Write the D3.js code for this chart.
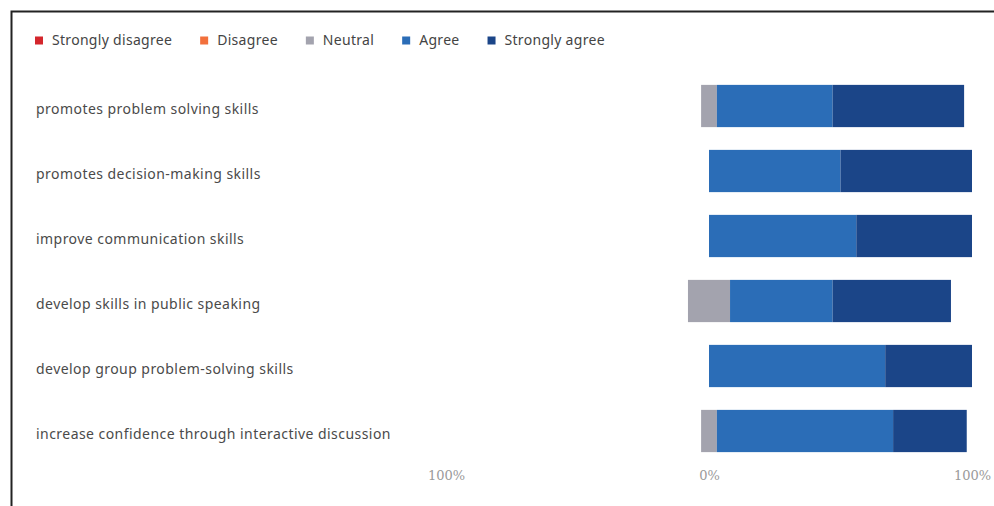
<!DOCTYPE html>
<html>
<head>
<meta charset="utf-8">
<script src="https://cdn.jsdelivr.net/npm/d3@7"></script>
<style>
  body { margin: 0; background: #fff; }
  svg { display: block; }
  .label { font-family: "Noto Sans", "Open Sans", sans-serif; font-size: 14px; letter-spacing: 0.45px; fill: #4a4a4a; }
  .legend text { font-family: "Noto Sans", "Open Sans", sans-serif; font-size: 14px; letter-spacing: 0.3px; fill: #444; }
  .axis text { font-family: "DejaVu Serif", serif; font-size: 13px; fill: #9a9a9a; }
</style>
</head>
<body>
<div id="chart"></div>
<script>
// categories, top to bottom
const categories = [
  "promotes problem solving skills",
  "promotes decision-making skills",
  "improve communication skills",
  "develop skills in public speaking",
  "develop group problem-solving skills",
  "increase confidence through interactive discussion"
];
// percent of responses per answer
const stronglyDisagree = [0, 0, 0, 0, 0, 0];
const disagree         = [0, 0, 0, 0, 0, 0];
const neutral          = [6, 0, 0, 16, 0, 6];
const agree            = [44, 50, 56, 39, 67, 67];
const stronglyAgree    = [50, 50, 44, 45, 33, 28];

const seriesNames = ["Strongly disagree", "Disagree", "Neutral", "Agree", "Strongly agree"];
const seriesColors = ["#d4262c", "#f2703c", "#a3a3ae", "#2b6db7", "#1b4588"];
const tickValues = [-100, 0, 100];

const width = 994, height = 506;

const svg = d3.select("#chart").append("svg")
    .attr("width", width)
    .attr("height", height);

// frame (top + left edge only)
svg.append("path")
    .attr("d", "M11.5,506 V11.5 H994")
    .attr("fill", "none")
    .attr("stroke", "#222")
    .attr("stroke-width", 2);

const x = d3.scaleLinear().domain([-100, 100]).range([446, 972]);
const y = d3.scaleBand().domain(categories).range([73.5, 463.5])
    .paddingInner(0.35).paddingOuter(0.175);

// diverging segments: negative side = disagree + half neutral
const rows = categories.map((c, i) => {
    const vals = [stronglyDisagree[i], disagree[i], neutral[i], agree[i], stronglyAgree[i]];
    let start = -(stronglyDisagree[i] + disagree[i] + neutral[i] / 2);
    const segs = vals.map((v, k) => {
        const s = { cat: c, k: k, x0: start, x1: start + v };
        start += v;
        return s;
    }).filter(s => s.x1 > s.x0);
    return { cat: c, segs: segs };
});

const rowG = svg.append("g").selectAll("g")
    .data(rows).join("g");

rowG.selectAll("rect")
    .data(d => d.segs).join("rect")
    .attr("x", d => x(d.x0))
    .attr("width", d => x(d.x1) - x(d.x0))
    .attr("y", d => y(d.cat))
    .attr("height", y.bandwidth())
    .attr("fill", d => seriesColors[d.k]);

svg.append("g").selectAll("text")
    .data(categories).join("text")
    .attr("class", "label")
    .attr("x", 36)
    .attr("y", d => y(d) + y.bandwidth() / 2 + 4)
    .attr("dominant-baseline", "middle")
    .text(d => d);

// axis
const axis = svg.append("g")
    .attr("class", "axis")
    .attr("transform", "translate(0,468)")
    .call(d3.axisBottom(x).tickValues(tickValues).tickSize(0).tickFormat(d => Math.abs(d) + "%"));
axis.select(".domain").remove();

// legend
const legend = svg.append("g").attr("class", "legend");
let lx = 35;
seriesNames.forEach((name, k) => {
    legend.append("rect")
        .attr("x", lx).attr("y", 36.5)
        .attr("width", 8).attr("height", 8)
        .attr("fill", seriesColors[k]);
    const t = legend.append("text")
        .attr("x", lx + 17).attr("y", 41)
        .attr("dominant-baseline", "middle")
        .text(name);
    lx += 17 + t.node().getComputedTextLength() + 28;
});
</script>
</body>
</html>
